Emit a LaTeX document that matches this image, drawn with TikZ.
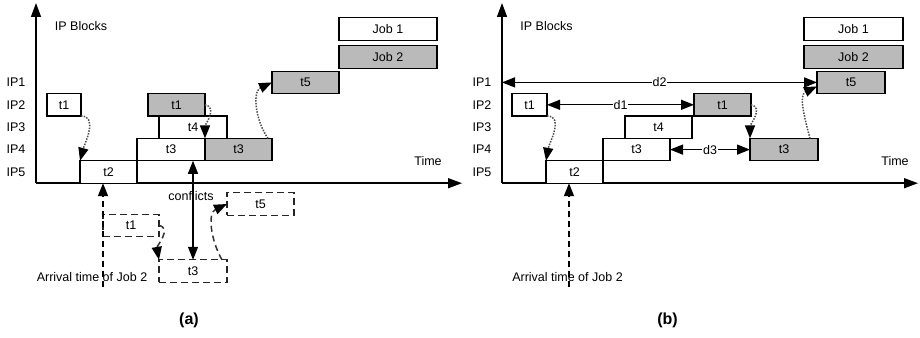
\documentclass[tikz,border=0pt]{standalone}
\usepackage{fontspec}
\setmainfont{Liberation Sans}
\usetikzlibrary{arrows.meta, positioning, calc}

\begin{document}
\begin{tikzpicture}[x=1pt, y=-1pt,
      % one unit = one pixel of the layout, y grows downwards
      task/.style={draw=black, fill=white, line width=1.3pt, minimum height=22.4pt,
      inner sep=0pt, outer sep=0pt, font=\fontsize{12.5pt}{14pt}\selectfont},
      busy/.style={task, fill=black!27},
      ghost/.style={task, draw=black!85, dash pattern=on 7pt off 4pt, line width=1.3pt},
      axis/.style={line width=1.5pt, -{Triangle[length=14pt,width=10pt]}},
      dep/.style={line width=1.5pt, black!70, dash pattern=on 1.5pt off 1.3pt,
      -{Triangle[length=13pt,width=10pt,color=black]}},
      depdash/.style={line width=1.5pt, black!80, dash pattern=on 6pt off 4pt,
      -{Triangle[length=13pt,width=10pt,color=black]}},
      arrival/.style={line width=1.5pt, dash pattern=on 6pt off 4pt,
      -{Triangle[length=13pt,width=10pt]}},
      distarrow/.style={line width=1.3pt,
      {Triangle[length=13pt,width=10pt]}-{Triangle[length=13pt,width=10pt]}},
      lbl/.style={font=\fontsize{12.5pt}{14pt}\selectfont, inner sep=1pt},
      panelcap/.style={font=\fontsize{16pt}{18pt}\bfseries\selectfont} ]
    \useasboundingbox (0,0) rectangle (920,337);

    % Axes
    \coordinate (aO) at (36,183.2); \coordinate (aY) at (36,3); \coordinate
    (aX) at (462,183.2); \coordinate (bO) at (502,183.2); \coordinate (bY) at
    (502,3); \coordinate (bX) at (918,183.2);
    \draw[axis] (aO) -- (aY); \draw[axis] (aO) -- (aX);
    \draw[axis] (bO) -- (bY); \draw[axis] (bO) -- (bX);

    % Axis labels
    \node[lbl] (aname) at (81,26) {IP Blocks}; \node[lbl] (bname) at
    (546.5,26) {IP Blocks}; \node[lbl] (atime) at (428,161) {Time};
    \node[lbl] (btime) at (895,161) {Time};
    \foreach \k/\y in {1/82.4,2/104.8,3/127.2,4/149.6,5/172} {
      \node[lbl] (aip\k) at (16,\y) {IP\k}; \node[lbl] (bip\k) at (482,\y) {IP\k};
    }

    % Schedule (a)
    \node[task, minimum width=34pt] (a1) at (64,104.8) {t1}; \node[task,
    minimum width=57pt] (a2) at (108.5,172) {t2}; \node[task, minimum
    width=68pt] (a3) at (171,149.6) {t3}; \node[busy, minimum width=57pt]
    (a1g) at (176.5,104.8) {t1}; \node[task, minimum width=68pt] (a4) at
    (193,127.2) {t4}; \node[busy, minimum width=67pt] (a3g) at (238.5,149.6)
    {t3}; \node[busy, minimum width=67pt] (a5) at (305.5,82.4) {t5};
    \node[task, minimum width=98pt] (ajob1) at (388,29) {Job 1}; \node[busy,
    minimum width=98pt] (ajob2) at (388,57) {Job 2};

    % Arrival of Job 2 and its conflicting tasks (a)
    \coordinate (aarr) at (103,287);
    \node[ghost, minimum width=56pt] (g1) at (131,225.5) {t1}; \node[ghost,
    minimum width=68pt] (g3) at (193,271) {t3}; \node[ghost, minimum
    width=67pt] (g5) at (260.5,204) {t5};
    \draw[arrival] (aarr) -- (aarr |- aO);
    \node[lbl] (aarrtxt) at (92,277) {Arrival time of Job 2};
    \node[lbl] (conf) at (191,196) {conflicts};
    \draw[distarrow] (a4 |- a3.south) -- (g3.north);

    % Dependencies (a)
    \draw[dep] (a1.south east) to[out=0, in=75] (a2.north west);
    \draw[dep] (a1g.east) to[out=-10, in=90] (a3g.north west);
    \draw[dep] ([xshift=-4pt]a3g.north east) to[out=125, in=205] (a5.west);
    \draw[depdash] (g1.east) to[out=-10, in=100] (g3.north west);
    \draw[depdash] ([xshift=-5pt]g3.north east) to[out=120, in=205] (g5.west);

    % Schedule (b)
    \node[task, minimum width=35pt] (b1) at (529.5,104.8) {t1}; \node[task,
    minimum width=57pt] (b2) at (574.5,172) {t2}; \node[task, minimum
    width=67pt] (b3) at (636.5,149.6) {t3}; \node[task, minimum width=67pt]
    (b4) at (658.5,127.2) {t4}; \node[busy, minimum width=57pt] (b1g) at
    (722.5,104.8) {t1}; \node[busy, minimum width=68pt] (b3g) at (784,149.6)
    {t3}; \node[busy, minimum width=68pt] (b5) at (851,82.4) {t5};
    \node[task, minimum width=99pt] (bjob1) at (853.5,29) {Job 1};
    \node[busy, minimum width=99pt] (bjob2) at (853.5,57) {Job 2};

    % Arrival of Job 2 (b)
    \coordinate (barr) at (569,287);
    \draw[arrival] (barr) -- (barr |- bO);
    \node[lbl] (barrtxt) at (567.5,277) {Arrival time of Job 2};

    % Dependencies (b)
    \draw[dep] (b1.south east) to[out=0, in=80] (b2.north west);
    \draw[dep] (b1g.east) to[out=-10, in=90] (b3g.north west);
    \draw[dep] ([xshift=-8pt]b3g.north east) to[out=105, in=205]
    ([yshift=-4pt]b5.west);

    % Delays
    \draw[distarrow] (bY |- b5.west) -- (b5.west) node[lbl, midway,
    fill=white] (d2) {d2};
    \draw[distarrow] (b1.east) -- (b1g.west) node[lbl, midway, fill=white]
    (d1) {d1};
    \draw[distarrow] (b3.east) -- (b3g.west) node[lbl, midway, fill=white]
    (d3) {d3};

    % Panel captions
    \node[panelcap] (capa) at (189,320) {(a)}; \node[panelcap] (capb) at
    (667.5,320) {(b)};

    \end{tikzpicture}
\end{document}
